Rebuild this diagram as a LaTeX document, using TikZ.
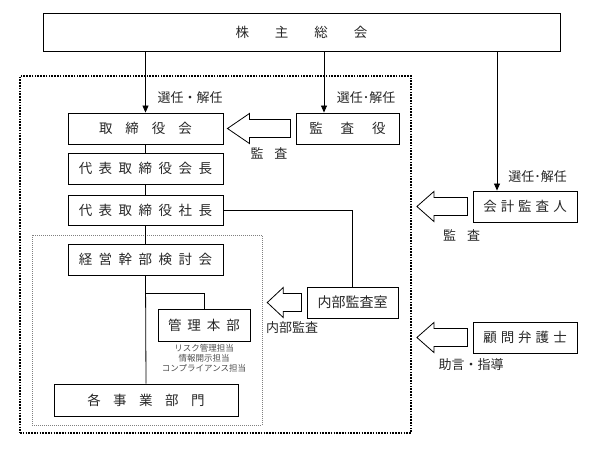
\documentclass[tikz,border=0pt]{standalone}
\usepackage{fontspec}
\usetikzlibrary{arrows.meta,calc}
\newfontfamily\jp{Noto Sans CJK JP}
\newcommand{\boxfont}{\jp\fontsize{13.5}{16}\selectfont}
\newcommand{\lblfont}{\jp\fontsize{13}{15}\selectfont}
\newcommand{\subfont}{\jp\fontsize{8.5}{10}\selectfont}
% hollow block arrow: tip, tail end, head length
\newcommand{\hollowarrow}[3]{%
  \draw[hollow] (#1) -- ++(#3,-15) -- ++(0,6) -- ($(#2)+(0,-9)$)
    -- ($(#2)+(0,9)$) -- ($(#1)+(#3,9)$) -- ++(0,6) -- cycle;}

\begin{document}
\begin{tikzpicture}[x=1pt,y=-1pt,
    box/.style={draw, line width=0.9pt, inner sep=0pt, font=\boxfont, text=black!85},
    lbl/.style={inner sep=0pt, font=\lblfont, text=black!85},
    sel/.style={-{Triangle[length=7pt,width=6pt]}, line width=0.8pt},
    link/.style={line width=0.8pt},
    hollow/.style={draw, line width=0.8pt, fill=white, line join=miter}]
  \useasboundingbox (0,0) rectangle (603,460);

  % groups
  \node [draw, line width=1.8pt, dash pattern=on 1.6pt off 1.2pt, minimum width=391pt, minimum height=357pt] (company) at (215.5,254.5) {};
  \node [draw, gray, line width=0.5pt, dash pattern=on 1pt off 1pt, minimum width=230pt, minimum height=190pt] (exec) at (147,330) {};

  % boxes
  \node [box, minimum width=517pt, minimum height=38pt] (soukai) at (301.5,32) {株\hspace{26pt}主\hspace{26pt}総\hspace{26pt}会};
  \node [box, minimum width=155pt, minimum height=31pt] (torishimari) at (145.5,128.5) {取\hspace{13pt}締\hspace{13pt}役\hspace{13pt}会};
  \node [box, minimum width=155pt, minimum height=31pt] (kaichou) at (145.5,168.5) {代\hspace{6.5pt}表\hspace{6.5pt}取\hspace{6.5pt}締\hspace{6.5pt}役\hspace{6.5pt}会\hspace{6.5pt}長};
  \node [box, minimum width=155pt, minimum height=30pt] (shachou) at (145.5,210) {代\hspace{6.5pt}表\hspace{6.5pt}取\hspace{6.5pt}締\hspace{6.5pt}役\hspace{6.5pt}社\hspace{6.5pt}長};
  \node [box, minimum width=155pt, minimum height=31pt] (keiei) at (145.5,259.5) {経\hspace{6.5pt}営\hspace{6.5pt}幹\hspace{6.5pt}部\hspace{6.5pt}検\hspace{6.5pt}討\hspace{6.5pt}会};
  \node [box, minimum width=92pt, minimum height=32pt] (kanri) at (204,325) {管\hspace{6pt}理\hspace{6pt}本\hspace{6pt}部};
  \node [box, minimum width=184pt, minimum height=32pt] (jigyou) at (146,400) {各\hspace{12.5pt}事\hspace{12.5pt}業\hspace{12.5pt}部\hspace{12.5pt}門};
  \node [box, minimum width=103pt, minimum height=31pt] (kansayaku) at (347.5,128.5) {監\hspace{18pt}査\hspace{18pt}役};
  \node [box, minimum width=91pt, minimum height=31pt] (naibu) at (352.5,302.5) {\fontsize{14}{16}\selectfont 内部監査室};
  \node [box, minimum width=104pt, minimum height=31pt] (kaikei) at (525,206.5) {会\hspace{4pt}計\hspace{4pt}監\hspace{4pt}査\hspace{4pt}人};
  \node [box, minimum width=104pt, minimum height=31pt] (komon) at (525,337.5) {顧\hspace{4pt}問\hspace{4pt}弁\hspace{4pt}護\hspace{4pt}士};

  \node [align=center, inner sep=0pt, font=\subfont, text=black!70] (kanrinote) at (204,358) {リスク管理担当\\情報開示担当\\コンプライアンス担当};

  % labels
  \node [lbl] (sel1) at (190,98) {選任・解任};
  \node [lbl] (sel2) at (366,98) {選任･解任};
  \node [lbl] (sel3) at (537.5,177) {選任･解任};
  \node [lbl] (audit1) at (269,153) {監\hspace{11pt}査};
  \node [lbl] (audit2) at (461.5,235) {監\hspace{11pt}査};
  \node [lbl] (audit3) at (292,328) {内部監査};
  \node [lbl] (advice) at (471,365) {助言・指導};

  % election arrows
  \draw [sel] (torishimari.north |- soukai.south) -- (torishimari.north);
  \draw [sel] ([xshift=-23.5pt]kansayaku.north |- soukai.south) -- ([xshift=-23.5pt]kansayaku.north);
  \draw [sel] ([xshift=-28pt]kaikei.north |- soukai.south) -- ([xshift=-28pt]kaikei.north);

  % reporting lines
  \draw [link] (torishimari) -- (kaichou);
  \draw [link] (kaichou) -- (shachou);
  \draw [link] (shachou) -- (keiei);
  \draw [link] (keiei.south) -- (jigyou.north);
  \draw [link] ([yshift=15pt]kanri.north -| keiei.south) -| (kanri.north);
  \draw [link] (shachou.east) -| (naibu.north);

  % audit arrows
  \coordinate (t1) at ([xshift=4pt]torishimari.east);
  \coordinate (e1) at ([xshift=-5pt]kansayaku.west);
  \hollowarrow{t1}{e1}{22}
  \coordinate (t2) at ([xshift=5pt]company.east |- kaikei.west);
  \coordinate (e2) at ([xshift=-5pt]kaikei.west);
  \hollowarrow{t2}{e2}{17}
  \coordinate (t3) at ([xshift=5pt]company.east |- komon.west);
  \coordinate (e3) at ([xshift=-5pt]komon.west);
  \hollowarrow{t3}{e3}{17}
  \coordinate (t4) at ([xshift=5pt]exec.east |- naibu.west);
  \coordinate (e4) at ([xshift=-5pt]naibu.west);
  \hollowarrow{t4}{e4}{16}
\end{tikzpicture}
\end{document}
